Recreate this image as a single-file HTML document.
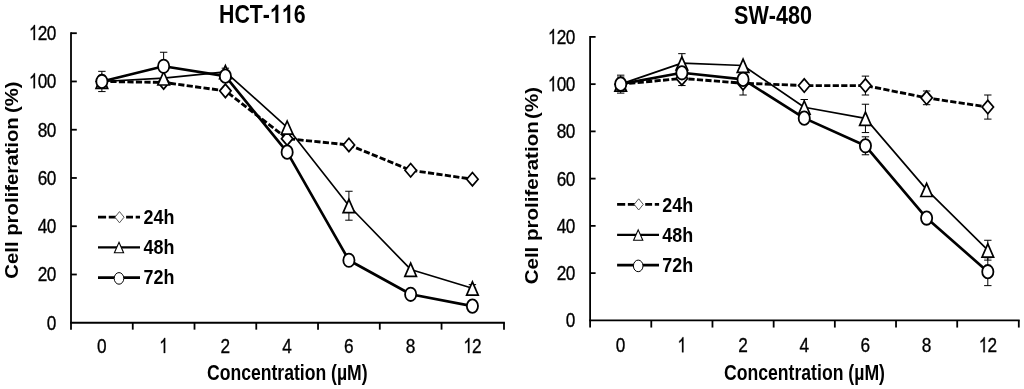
<!DOCTYPE html>
<html><head><meta charset="utf-8"><title>Cell proliferation</title>
<style>
html,body{margin:0;padding:0;background:#fff;}
body{width:1024px;height:389px;overflow:hidden;font-family:'Liberation Sans', sans-serif;}
svg{display:block;filter:blur(0.45px);}
svg text{font-family:'Liberation Sans', sans-serif;fill:#000;}
</style></head><body>
<svg width="1024" height="389" viewBox="0 0 1024 389">
<rect width="1024" height="389" fill="#fff"/>
<g id="left">
<g stroke="#000" stroke-width="1.8" fill="none" stroke-linecap="butt">
<path d="M71.00 32.30V329.65"/>
<path d="M70.10 322.75H504.90"/>
<path d="M132.76 322.75v6.90"/>
<path d="M194.51 322.75v6.90"/>
<path d="M256.27 322.75v6.90"/>
<path d="M318.03 322.75v6.90"/>
<path d="M379.79 322.75v6.90"/>
<path d="M441.54 322.75v6.90"/>
<path d="M504.00 322.75v6.90"/>
<path d="M71.00 274.49h5.80"/>
<path d="M71.00 226.23h5.80"/>
<path d="M71.00 177.97h5.80"/>
<path d="M71.00 129.72h5.80"/>
<path d="M71.00 81.46h5.80"/>
<path d="M71.00 33.20h5.80"/>
</g>
<text transform="translate(46.85 329.55) scale(0.82 1)" font-size="21.0" stroke="#000" stroke-width="0.35">0</text>
<text transform="translate(37.70 281.29) scale(0.82 1)" font-size="21.0" stroke="#000" stroke-width="0.35">2</text>
<text transform="translate(46.85 281.29) scale(0.82 1)" font-size="21.0" stroke="#000" stroke-width="0.35">0</text>
<text transform="translate(37.70 233.03) scale(0.82 1)" font-size="21.0" stroke="#000" stroke-width="0.35">4</text>
<text transform="translate(46.85 233.03) scale(0.82 1)" font-size="21.0" stroke="#000" stroke-width="0.35">0</text>
<text transform="translate(37.70 184.78) scale(0.82 1)" font-size="21.0" stroke="#000" stroke-width="0.35">6</text>
<text transform="translate(46.85 184.78) scale(0.82 1)" font-size="21.0" stroke="#000" stroke-width="0.35">0</text>
<text transform="translate(37.70 136.52) scale(0.82 1)" font-size="21.0" stroke="#000" stroke-width="0.35">8</text>
<text transform="translate(46.85 136.52) scale(0.82 1)" font-size="21.0" stroke="#000" stroke-width="0.35">0</text>
<path transform="translate(29.06 88.26) scale(0.00774 0.01025)" d="M763 0H583V-1147Q518 -1085 412.5 -1023T223 -930V-1104Q374 -1175 487 -1276T647 -1472H763Z" fill="#000" stroke="#000" stroke-width="34.1"/>
<text transform="translate(37.70 88.26) scale(0.82 1)" font-size="21.0" stroke="#000" stroke-width="0.35">0</text>
<text transform="translate(46.85 88.26) scale(0.82 1)" font-size="21.0" stroke="#000" stroke-width="0.35">0</text>
<path transform="translate(29.06 40.00) scale(0.00774 0.01025)" d="M763 0H583V-1147Q518 -1085 412.5 -1023T223 -930V-1104Q374 -1175 487 -1276T647 -1472H763Z" fill="#000" stroke="#000" stroke-width="34.1"/>
<text transform="translate(37.70 40.00) scale(0.82 1)" font-size="21.0" stroke="#000" stroke-width="0.35">2</text>
<text transform="translate(46.85 40.00) scale(0.82 1)" font-size="21.0" stroke="#000" stroke-width="0.35">0</text>
<text transform="translate(97.00 353.00) scale(0.82 1)" font-size="21.0" stroke="#000" stroke-width="0.35">0</text>
<path transform="translate(159.27 353.00) scale(0.00774 0.01025)" d="M763 0H583V-1147Q518 -1085 412.5 -1023T223 -930V-1104Q374 -1175 487 -1276T647 -1472H763Z" fill="#000" stroke="#000" stroke-width="34.1"/>
<text transform="translate(220.52 353.00) scale(0.82 1)" font-size="21.0" stroke="#000" stroke-width="0.35">2</text>
<text transform="translate(282.27 353.00) scale(0.82 1)" font-size="21.0" stroke="#000" stroke-width="0.35">4</text>
<text transform="translate(344.03 353.00) scale(0.82 1)" font-size="21.0" stroke="#000" stroke-width="0.35">6</text>
<text transform="translate(405.79 353.00) scale(0.82 1)" font-size="21.0" stroke="#000" stroke-width="0.35">8</text>
<path transform="translate(463.48 353.00) scale(0.00774 0.01025)" d="M763 0H583V-1147Q518 -1085 412.5 -1023T223 -930V-1104Q374 -1175 487 -1276T647 -1472H763Z" fill="#000" stroke="#000" stroke-width="34.1"/>
<text transform="translate(472.12 353.00) scale(0.82 1)" font-size="21.0" stroke="#000" stroke-width="0.35">2</text>
<polyline points="101.88,81.46 163.64,82.42 225.39,90.87 287.15,138.64 348.91,144.92 410.66,170.25 472.42,179.18" fill="none" stroke="#000" stroke-width="2.85" stroke-linejoin="round" stroke-dasharray="6.2 2.3"/>
<path d="M101.88 77.84V85.08M98.18 77.84h7.4M98.18 85.08h7.4" stroke="#000" stroke-width="1" fill="none"/>
<path d="M101.88 74.76L107.58 81.46L101.88 88.16L96.18 81.46Z" fill="#fff" stroke="#000" stroke-width="1.7" stroke-linejoin="miter"/>
<path d="M163.64 75.72L169.34 82.42L163.64 89.12L157.94 82.42Z" fill="#fff" stroke="#000" stroke-width="1.7" stroke-linejoin="miter"/>
<path d="M225.39 84.17L231.09 90.87L225.39 97.57L219.69 90.87Z" fill="#fff" stroke="#000" stroke-width="1.7" stroke-linejoin="miter"/>
<path d="M287.15 131.94L292.85 138.64L287.15 145.34L281.45 138.64Z" fill="#fff" stroke="#000" stroke-width="1.7" stroke-linejoin="miter"/>
<path d="M348.91 138.22L354.61 144.92L348.91 151.62L343.21 144.92Z" fill="#fff" stroke="#000" stroke-width="1.7" stroke-linejoin="miter"/>
<path d="M410.66 163.55L416.36 170.25L410.66 176.95L404.96 170.25Z" fill="#fff" stroke="#000" stroke-width="1.7" stroke-linejoin="miter"/>
<path d="M472.42 172.48L478.12 179.18L472.42 185.88L466.72 179.18Z" fill="#fff" stroke="#000" stroke-width="1.7" stroke-linejoin="miter"/>
<polyline points="101.88,81.46 163.64,78.08 225.39,71.81 287.15,127.30 348.91,205.72 410.66,269.42 472.42,288.25" fill="none" stroke="#000" stroke-width="1.65" stroke-linejoin="round"/>
<path d="M101.88 75.43V87.49M98.18 75.43h7.4M98.18 87.49h7.4" stroke="#000" stroke-width="1" fill="none"/>
<path d="M225.39 68.19V75.43M221.69 68.19h7.4M221.69 75.43h7.4" stroke="#000" stroke-width="1" fill="none"/>
<path d="M348.91 191.25V220.20M345.21 191.25h7.4M345.21 220.20h7.4" stroke="#000" stroke-width="1" fill="none"/>
<path d="M472.42 284.63V288.25M468.72 284.63h7.4M468.72 288.25h7.4" stroke="#000" stroke-width="1" fill="none"/>
<path d="M101.88 75.16L107.68 88.36H96.08Z" fill="#fff" stroke="#000" stroke-width="1.7" stroke-linejoin="miter"/>
<path d="M163.64 71.78L169.44 84.98H157.84Z" fill="#fff" stroke="#000" stroke-width="1.7" stroke-linejoin="miter"/>
<path d="M225.39 65.51L231.19 78.71H219.59Z" fill="#fff" stroke="#000" stroke-width="1.7" stroke-linejoin="miter"/>
<path d="M287.15 121.00L292.95 134.20H281.35Z" fill="#fff" stroke="#000" stroke-width="1.7" stroke-linejoin="miter"/>
<path d="M348.91 199.42L354.71 212.62H343.11Z" fill="#fff" stroke="#000" stroke-width="1.7" stroke-linejoin="miter"/>
<path d="M410.66 263.12L416.46 276.32H404.86Z" fill="#fff" stroke="#000" stroke-width="1.7" stroke-linejoin="miter"/>
<path d="M472.42 281.95L478.22 295.15H466.62Z" fill="#fff" stroke="#000" stroke-width="1.7" stroke-linejoin="miter"/>
<polyline points="101.88,81.46 163.64,66.26 225.39,76.15 287.15,152.16 348.91,260.26 410.66,294.28 472.42,306.10" fill="none" stroke="#000" stroke-width="2.65" stroke-linejoin="round"/>
<path d="M101.88 71.32V91.59M98.18 71.32h7.4M98.18 91.59h7.4" stroke="#000" stroke-width="1" fill="none"/>
<path d="M163.64 52.26V66.26M159.94 52.26h7.4M159.94 66.26h7.4" stroke="#000" stroke-width="1" fill="none"/>
<ellipse cx="101.88" cy="81.46" rx="5.6" ry="6.7" fill="#fff" stroke="#000" stroke-width="1.8"/>
<ellipse cx="163.64" cy="66.26" rx="5.6" ry="6.7" fill="#fff" stroke="#000" stroke-width="1.8"/>
<ellipse cx="225.39" cy="76.15" rx="5.6" ry="6.7" fill="#fff" stroke="#000" stroke-width="1.8"/>
<ellipse cx="287.15" cy="152.16" rx="5.6" ry="6.7" fill="#fff" stroke="#000" stroke-width="1.8"/>
<ellipse cx="348.91" cy="260.26" rx="5.6" ry="6.7" fill="#fff" stroke="#000" stroke-width="1.8"/>
<ellipse cx="410.66" cy="294.28" rx="5.6" ry="6.7" fill="#fff" stroke="#000" stroke-width="1.8"/>
<ellipse cx="472.42" cy="306.10" rx="5.6" ry="6.7" fill="#fff" stroke="#000" stroke-width="1.8"/>
<path d="M98.00 217.20H106.10M108.75 217.20H116.50M126.10 217.20H133.00M135.70 217.20H140.00" stroke="#000" stroke-width="2.7" fill="none"/>
<path d="M119.50 211.60L124.05 217.20L119.50 222.80L114.95 217.20Z" fill="#fff" stroke="#444" stroke-width="0.9" stroke-linejoin="miter"/>
<text transform="translate(143.50 223.80) scale(0.866 1)" font-size="20.7" font-weight="bold">24h</text>
<path d="M98.00 247.30H140.00" stroke="#000" stroke-width="2.2" fill="none"/>
<path d="M119.00 242.30L123.60 252.70H114.40Z" fill="#fff" stroke="#000" stroke-width="1.1" stroke-linejoin="miter"/>
<text transform="translate(143.50 254.20) scale(0.866 1)" font-size="20.7" font-weight="bold">48h</text>
<path d="M98.00 277.60H140.00" stroke="#000" stroke-width="2.8" fill="none"/>
<ellipse cx="119.00" cy="278.40" rx="4.8" ry="5.8" fill="#fff" stroke="#000" stroke-width="1.0"/>
<text transform="translate(143.50 284.40) scale(0.866 1)" font-size="20.7" font-weight="bold">72h</text>
<g transform="translate(219.00 23.00) scale(0.84 1)">
<text x="0.00" y="0" font-size="25.4" font-weight="bold" style="font-kerning:none">HCT-</text>
<path transform="translate(60.66 0) scale(0.01240)" d="M806 0H525V-1059Q371 -915 162 -846V-1101Q272 -1137 401 -1237.5T578 -1472H806Z" fill="#000"/>
<path transform="translate(74.79 0) scale(0.01240)" d="M806 0H525V-1059Q371 -915 162 -846V-1101Q272 -1137 401 -1237.5T578 -1472H806Z" fill="#000"/>
<text x="88.91" y="0" font-size="25.4" font-weight="bold" style="font-kerning:none">6</text>
</g>
<text transform="translate(207.00 380.30) scale(0.83 1)" font-size="21.2" font-weight="bold">Concentration (µM)</text>
<g transform="translate(18.40 278.70) rotate(-90) scale(1.155 1.0)" font-size="17.6" font-weight="bold"><text>Cell proliferation</text><text x="143.4">(%)</text></g>
</g>
<g id="right">
<g stroke="#000" stroke-width="1.8" fill="none" stroke-linecap="butt">
<path d="M590.10 36.00V327.55"/>
<path d="M589.20 320.35H1019.70"/>
<path d="M651.29 320.35v7.20"/>
<path d="M712.47 320.35v7.20"/>
<path d="M773.66 320.35v7.20"/>
<path d="M834.84 320.35v7.20"/>
<path d="M896.03 320.35v7.20"/>
<path d="M957.21 320.35v7.20"/>
<path d="M1018.80 320.35v7.20"/>
<path d="M590.10 273.11h5.50"/>
<path d="M590.10 225.87h5.50"/>
<path d="M590.10 178.62h5.50"/>
<path d="M590.10 131.38h5.50"/>
<path d="M590.10 84.14h5.50"/>
<path d="M590.10 36.90h5.50"/>
</g>
<text transform="translate(565.80 327.45) scale(0.82 1)" font-size="21.0" stroke="#000" stroke-width="0.35">0</text>
<text transform="translate(556.65 280.21) scale(0.82 1)" font-size="21.0" stroke="#000" stroke-width="0.35">2</text>
<text transform="translate(565.80 280.21) scale(0.82 1)" font-size="21.0" stroke="#000" stroke-width="0.35">0</text>
<text transform="translate(556.65 232.97) scale(0.82 1)" font-size="21.0" stroke="#000" stroke-width="0.35">4</text>
<text transform="translate(565.80 232.97) scale(0.82 1)" font-size="21.0" stroke="#000" stroke-width="0.35">0</text>
<text transform="translate(556.65 185.72) scale(0.82 1)" font-size="21.0" stroke="#000" stroke-width="0.35">6</text>
<text transform="translate(565.80 185.72) scale(0.82 1)" font-size="21.0" stroke="#000" stroke-width="0.35">0</text>
<text transform="translate(556.65 138.48) scale(0.82 1)" font-size="21.0" stroke="#000" stroke-width="0.35">8</text>
<text transform="translate(565.80 138.48) scale(0.82 1)" font-size="21.0" stroke="#000" stroke-width="0.35">0</text>
<path transform="translate(548.01 91.24) scale(0.00774 0.01025)" d="M763 0H583V-1147Q518 -1085 412.5 -1023T223 -930V-1104Q374 -1175 487 -1276T647 -1472H763Z" fill="#000" stroke="#000" stroke-width="34.1"/>
<text transform="translate(556.65 91.24) scale(0.82 1)" font-size="21.0" stroke="#000" stroke-width="0.35">0</text>
<text transform="translate(565.80 91.24) scale(0.82 1)" font-size="21.0" stroke="#000" stroke-width="0.35">0</text>
<path transform="translate(548.01 44.00) scale(0.00774 0.01025)" d="M763 0H583V-1147Q518 -1085 412.5 -1023T223 -930V-1104Q374 -1175 487 -1276T647 -1472H763Z" fill="#000" stroke="#000" stroke-width="34.1"/>
<text transform="translate(556.65 44.00) scale(0.82 1)" font-size="21.0" stroke="#000" stroke-width="0.35">2</text>
<text transform="translate(565.80 44.00) scale(0.82 1)" font-size="21.0" stroke="#000" stroke-width="0.35">0</text>
<text transform="translate(615.82 352.30) scale(0.82 1)" font-size="21.0" stroke="#000" stroke-width="0.35">0</text>
<path transform="translate(677.52 352.30) scale(0.00774 0.01025)" d="M763 0H583V-1147Q518 -1085 412.5 -1023T223 -930V-1104Q374 -1175 487 -1276T647 -1472H763Z" fill="#000" stroke="#000" stroke-width="34.1"/>
<text transform="translate(738.19 352.30) scale(0.82 1)" font-size="21.0" stroke="#000" stroke-width="0.35">2</text>
<text transform="translate(799.38 352.30) scale(0.82 1)" font-size="21.0" stroke="#000" stroke-width="0.35">4</text>
<text transform="translate(860.56 352.30) scale(0.82 1)" font-size="21.0" stroke="#000" stroke-width="0.35">6</text>
<text transform="translate(921.75 352.30) scale(0.82 1)" font-size="21.0" stroke="#000" stroke-width="0.35">8</text>
<path transform="translate(978.87 352.30) scale(0.00774 0.01025)" d="M763 0H583V-1147Q518 -1085 412.5 -1023T223 -930V-1104Q374 -1175 487 -1276T647 -1472H763Z" fill="#000" stroke="#000" stroke-width="34.1"/>
<text transform="translate(987.51 352.30) scale(0.82 1)" font-size="21.0" stroke="#000" stroke-width="0.35">2</text>
<polyline points="620.69,84.14 681.88,78.47 743.06,83.20 804.25,85.56 865.44,85.56 926.62,97.84 987.81,107.05" fill="none" stroke="#000" stroke-width="2.85" stroke-linejoin="round" stroke-dasharray="6.2 2.3"/>
<path d="M620.69 77.06V91.23M616.99 77.06h7.4M616.99 91.23h7.4" stroke="#000" stroke-width="1" fill="none"/>
<path d="M681.88 71.39V85.56M678.18 71.39h7.4M678.18 85.56h7.4" stroke="#000" stroke-width="1" fill="none"/>
<path d="M743.06 71.39V95.01M739.36 71.39h7.4M739.36 95.01h7.4" stroke="#000" stroke-width="1" fill="none"/>
<path d="M865.44 76.11V95.01M861.74 76.11h7.4M861.74 95.01h7.4" stroke="#000" stroke-width="1" fill="none"/>
<path d="M926.62 90.99V104.69M922.92 90.99h7.4M922.92 104.69h7.4" stroke="#000" stroke-width="1" fill="none"/>
<path d="M987.81 95.01V119.10M984.11 95.01h7.4M984.11 119.10h7.4" stroke="#000" stroke-width="1" fill="none"/>
<path d="M620.69 77.44L626.39 84.14L620.69 90.84L614.99 84.14Z" fill="#fff" stroke="#000" stroke-width="1.7" stroke-linejoin="miter"/>
<path d="M681.88 71.77L687.58 78.47L681.88 85.17L676.18 78.47Z" fill="#fff" stroke="#000" stroke-width="1.7" stroke-linejoin="miter"/>
<path d="M743.06 76.50L748.76 83.20L743.06 89.90L737.36 83.20Z" fill="#fff" stroke="#000" stroke-width="1.7" stroke-linejoin="miter"/>
<path d="M804.25 78.86L809.95 85.56L804.25 92.26L798.55 85.56Z" fill="#fff" stroke="#000" stroke-width="1.7" stroke-linejoin="miter"/>
<path d="M865.44 78.86L871.14 85.56L865.44 92.26L859.74 85.56Z" fill="#fff" stroke="#000" stroke-width="1.7" stroke-linejoin="miter"/>
<path d="M926.62 91.14L932.32 97.84L926.62 104.54L920.92 97.84Z" fill="#fff" stroke="#000" stroke-width="1.7" stroke-linejoin="miter"/>
<path d="M987.81 100.35L993.51 107.05L987.81 113.75L982.11 107.05Z" fill="#fff" stroke="#000" stroke-width="1.7" stroke-linejoin="miter"/>
<polyline points="620.69,84.14 681.88,63.12 743.06,65.48 804.25,107.29 865.44,118.39 926.62,189.61 987.81,250.20" fill="none" stroke="#000" stroke-width="1.65" stroke-linejoin="round"/>
<path d="M620.69 79.42V88.87M616.99 79.42h7.4M616.99 88.87h7.4" stroke="#000" stroke-width="1" fill="none"/>
<path d="M681.88 53.67V72.57M678.18 53.67h7.4M678.18 72.57h7.4" stroke="#000" stroke-width="1" fill="none"/>
<path d="M804.25 99.50V115.08M800.55 99.50h7.4M800.55 115.08h7.4" stroke="#000" stroke-width="1" fill="none"/>
<path d="M865.44 104.22V132.56M861.74 104.22h7.4M861.74 132.56h7.4" stroke="#000" stroke-width="1" fill="none"/>
<path d="M987.81 240.28V260.12M984.11 240.28h7.4M984.11 260.12h7.4" stroke="#000" stroke-width="1" fill="none"/>
<path d="M620.69 77.84L626.49 91.04H614.89Z" fill="#fff" stroke="#000" stroke-width="1.7" stroke-linejoin="miter"/>
<path d="M681.88 56.82L687.68 70.02H676.08Z" fill="#fff" stroke="#000" stroke-width="1.7" stroke-linejoin="miter"/>
<path d="M743.06 59.18L748.86 72.38H737.26Z" fill="#fff" stroke="#000" stroke-width="1.7" stroke-linejoin="miter"/>
<path d="M804.25 100.99L810.05 114.19H798.45Z" fill="#fff" stroke="#000" stroke-width="1.7" stroke-linejoin="miter"/>
<path d="M865.44 112.09L871.24 125.29H859.64Z" fill="#fff" stroke="#000" stroke-width="1.7" stroke-linejoin="miter"/>
<path d="M926.62 183.31L932.42 196.51H920.82Z" fill="#fff" stroke="#000" stroke-width="1.7" stroke-linejoin="miter"/>
<path d="M987.81 243.90L993.61 257.10H982.01Z" fill="#fff" stroke="#000" stroke-width="1.7" stroke-linejoin="miter"/>
<polyline points="620.69,84.14 681.88,72.80 743.06,79.42 804.25,118.16 865.44,145.79 926.62,218.07 987.81,271.69" fill="none" stroke="#000" stroke-width="2.65" stroke-linejoin="round"/>
<path d="M620.69 75.17V93.12M616.99 75.17h7.4M616.99 93.12h7.4" stroke="#000" stroke-width="1" fill="none"/>
<path d="M865.44 136.82V154.77M861.74 136.82h7.4M861.74 154.77h7.4" stroke="#000" stroke-width="1" fill="none"/>
<path d="M987.81 257.75V285.63M984.11 257.75h7.4M984.11 285.63h7.4" stroke="#000" stroke-width="1" fill="none"/>
<ellipse cx="620.69" cy="84.14" rx="5.6" ry="6.7" fill="#fff" stroke="#000" stroke-width="1.8"/>
<ellipse cx="681.88" cy="72.80" rx="5.6" ry="6.7" fill="#fff" stroke="#000" stroke-width="1.8"/>
<ellipse cx="743.06" cy="79.42" rx="5.6" ry="6.7" fill="#fff" stroke="#000" stroke-width="1.8"/>
<ellipse cx="804.25" cy="118.16" rx="5.6" ry="6.7" fill="#fff" stroke="#000" stroke-width="1.8"/>
<ellipse cx="865.44" cy="145.79" rx="5.6" ry="6.7" fill="#fff" stroke="#000" stroke-width="1.8"/>
<ellipse cx="926.62" cy="218.07" rx="5.6" ry="6.7" fill="#fff" stroke="#000" stroke-width="1.8"/>
<ellipse cx="987.81" cy="271.69" rx="5.6" ry="6.7" fill="#fff" stroke="#000" stroke-width="1.8"/>
<path d="M617.10 204.40H625.20M627.85 204.40H635.60M645.20 204.40H652.10M654.80 204.40H659.10" stroke="#000" stroke-width="2.7" fill="none"/>
<path d="M638.70 198.80L643.25 204.40L638.70 210.00L634.15 204.40Z" fill="#fff" stroke="#444" stroke-width="0.9" stroke-linejoin="miter"/>
<text transform="translate(662.20 211.50) scale(0.866 1)" font-size="20.7" font-weight="bold">24h</text>
<path d="M617.10 234.90H659.00" stroke="#000" stroke-width="2.2" fill="none"/>
<path d="M638.20 229.90L642.80 240.30H633.60Z" fill="#fff" stroke="#000" stroke-width="1.1" stroke-linejoin="miter"/>
<text transform="translate(662.20 241.90) scale(0.866 1)" font-size="20.7" font-weight="bold">48h</text>
<path d="M617.10 265.10H659.00" stroke="#000" stroke-width="2.8" fill="none"/>
<ellipse cx="638.20" cy="265.90" rx="4.8" ry="5.8" fill="#fff" stroke="#000" stroke-width="1.0"/>
<text transform="translate(662.20 272.20) scale(0.866 1)" font-size="20.7" font-weight="bold">72h</text>
<g transform="translate(734.00 24.00) scale(0.85 1)">
<text x="0.00" y="0" font-size="25.4" font-weight="bold" style="font-kerning:none">SW-480</text>
</g>
<text transform="translate(723.90 380.30) scale(0.832 1)" font-size="21.2" font-weight="bold">Concentration (µM)</text>
<g transform="translate(537.50 284.30) rotate(-90) scale(1.166 1.0)" font-size="17.6" font-weight="bold"><text>Cell proliferation</text><text x="141.85">(%)</text></g>
</g>
</svg>
</body></html>
